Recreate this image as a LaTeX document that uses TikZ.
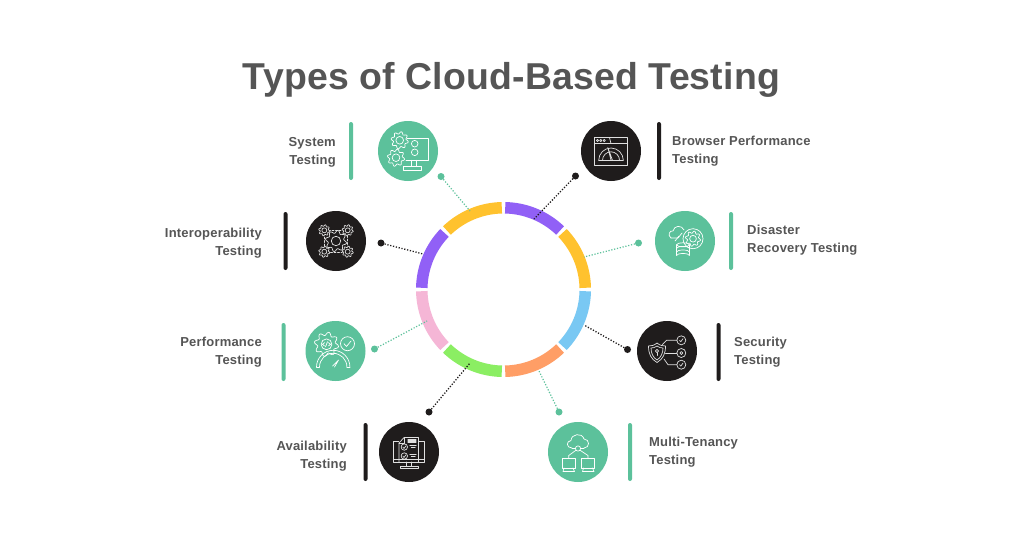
\documentclass[tikz,border=0pt]{standalone}
\usepackage{fontspec}
\setmainfont{Liberation Sans}[LetterSpace=1.5]
\newfontfamily\titlefont{Liberation Sans Bold}[LetterSpace=0.5]
\definecolor{tgreen}{HTML}{5CC19B}
\definecolor{tblack}{HTML}{1F1C1C}
\definecolor{ttext}{HTML}{555555}
\definecolor{rpurple}{HTML}{9160F6}
\definecolor{ryellow}{HTML}{FFC22E}
\definecolor{rblue}{HTML}{79C8F3}
\definecolor{rorange}{HTML}{FF9E66}
\definecolor{rgreen}{HTML}{8BEE63}
\definecolor{rpink}{HTML}{F5B6D6}
\tikzset{
  disc/.style={circle,minimum size=60pt,inner sep=0pt,draw=none},
  gdisc/.style={disc,fill=tgreen},
  kdisc/.style={disc,fill=tblack},
  bar/.style={rectangle,rounded corners=2pt,minimum width=4pt,minimum height=58pt,inner sep=0pt},
  gbar/.style={bar,fill=tgreen},
  kbar/.style={bar,fill=tblack},
  dotg/.style={circle,fill=tgreen,minimum size=7pt,inner sep=0pt},
  dotk/.style={circle,fill=tblack,minimum size=7pt,inner sep=0pt},
  lblr/.style={anchor=east,align=right,font=\fontsize{13}{18}\selectfont\bfseries,text=ttext,inner sep=0pt},
  lbll/.style={anchor=west,align=left,font=\fontsize{13}{18}\selectfont\bfseries,text=ttext,inner sep=0pt},
  cong/.style={draw=tgreen,line width=1.2pt,dash pattern=on 1.2pt off 1.7pt},
  conk/.style={draw=tblack,line width=1.3pt,dash pattern=on 1.2pt off 1.7pt},
  seg/.style={line width=11.5pt},
  ico/.style={draw=white,line width=0.7pt,fill=none,line join=round,line cap=round},
  icok/.style={draw=white!88!black,line width=0.7pt,fill=none,line join=round,line cap=round},
}
\newcommand{\ringseg}[3]{\draw[seg,draw=#3] ([shift={(#1+1.2:81.75pt)}]503.5,289.5) arc[start angle=#1+1.2,end angle=#2-1.2,radius=81.75pt];}
\newcommand{\gearic}[4]{% x y r style
  \draw[#4] plot[domain=0:357,samples=70] ({#1+(#3)*(0.88+0.14*sin(8*\x))*cos(\x)},{#2+(#3)*(0.88+0.14*sin(8*\x))*sin(\x)}) -- cycle;
  \draw[#4] (#1,#2) circle[radius=0.45*#3];}
\begin{document}
\begin{tikzpicture}[x=1pt,y=1pt,yscale=-1]
\useasboundingbox (0,0) rectangle (1024,536);
\fill[white] (0,0) rectangle (1024,536);
\node[name=title,text=ttext,inner sep=0pt,anchor=base,font=\fontsize{37.4}{40}\selectfont\titlefont] at (511.5,89) {Types of Cloud-Based Testing};

% ring
\ringseg{-90}{-45}{rpurple}
\ringseg{-45}{0}{ryellow}
\ringseg{0}{45}{rblue}
\ringseg{45}{90}{rorange}
\ringseg{90}{135}{rgreen}
\ringseg{135}{180}{rpink}
\ringseg{180}{225}{rpurple}
\ringseg{225}{270}{ryellow}

% discs
\node[gdisc] (sys) at (408,151) {};
\node[kdisc] (int) at (336,241) {};
\node[gdisc] (per) at (335.5,351) {};
\node[kdisc] (ava) at (409,452) {};
\node[kdisc] (bro) at (611,151) {};
\node[gdisc] (dis) at (685,241) {};
\node[kdisc] (sec) at (667,351) {};
\node[gdisc] (mul) at (578,452) {};

% bars
\node[gbar] (sysb) at (351,151) {};
\node[kbar] (intb) at (285.5,241) {};
\node[gbar] (perb) at (283.5,352) {};
\node[kbar] (avab) at (365.5,452) {};
\node[kbar] (brob) at (659,151) {};
\node[gbar] (disb) at (731,241) {};
\node[kbar] (secb) at (718.5,352) {};
\node[gbar] (mulb) at (630,452) {};

% labels
\node[lblr] (sysl) at (336,152) {System\\Testing};
\node[lblr] (intl) at (262,243.5) {Interoperability\\Testing};
\node[lblr] (perl) at (262,352) {Performance\\Testing};
\node[lblr] (aval) at (347,456) {Availability\\Testing};
\node[lbll] (brol) at (672,151) {Browser Performance\\Testing};
\node[lbll] (disl) at (747,240) {Disaster\\Recovery Testing};
\node[lbll] (secl) at (734,352) {Security\\Testing};
\node[lbll] (mull) at (649,452) {Multi-Tenancy\\Testing};

% connector dots and ring ends
\node[dotg] (sysd) at (441,176.5) {};
\node[dotk] (intd) at (381,243) {};
\node[dotg] (perd) at (374.5,349) {};
\node[dotk] (avad) at (429,412) {};
\node[dotk] (brod) at (575.5,176) {};
\node[dotg] (disd) at (638.5,243) {};
\node[dotk] (secd) at (627.5,349.5) {};
\node[dotg] (muld) at (559,412) {};
\coordinate (sysr) at (470,211);
\coordinate (intr) at (423,254);
\coordinate (perr) at (427,321);
\coordinate (avar) at (470,363);
\coordinate (bror) at (534,219);
\coordinate (disr) at (584,257);
\coordinate (secr) at (584,325);
\coordinate (mulr) at (539,371);
\draw[cong] (sysd) -- (sysr);
\draw[conk] (intd) -- (intr);
\draw[cong] (perd) -- (perr);
\draw[conk] (avad) -- (avar);
\draw[conk] (brod) -- (bror);
\draw[cong] (disd) -- (disr);
\draw[conk] (secd) -- (secr);
\draw[cong] (muld) -- (mulr);

% icon: system testing
\begin{scope}[shift={(408,151)}]
\gearic{-8.3}{-10.7}{8.5}{ico}
\gearic{-12}{6.7}{8.5}{ico}
\draw[ico] (-1,-12.3) -- (20,-12.3) -- (20,9.3) -- (-2,9.3);
\draw[ico] (6.7,-7.3) circle[radius=3.3];
\draw[ico] (6.7,1.3) circle[radius=3.3];
\draw[ico] (3,9.3) -- (3,15.5) (8,9.3) -- (8,15.5);
\draw[ico] (-5,15.5) rectangle (13,19);
\end{scope}

% icon: interoperability
\begin{scope}[shift={(336,241)}]
\draw[icok,dash pattern=on 2pt off 1.5pt] (-11.5,-11) rectangle (11.5,11);
\foreach \a/\b in {-11.7/-10.7,11.7/-10.7,-11.7/10.7,11.7/10.7}{
  \fill[tblack] (\a,\b) circle[radius=5.5];
  \gearic{\a}{\b}{5.5}{icok}
}
\gearic{0}{0}{10.5}{icok}
\end{scope}

% icon: browser performance
\begin{scope}[shift={(611,151)}]
\draw[icok] (-16.7,-13.3) rectangle (16.7,14.3);
\draw[icok] (-16.7,-7.3) -- (16.7,-7.3);
\draw[icok] (-1.5,-13.3) -- (0,-7.3);
\foreach \a in {-13.5,-10.2,-6.8}{\draw[icok] (\a,-10.5) circle[radius=1.1];}
\draw[icok] (-12.3,9.3) arc[start angle=180,end angle=360,radius=12.3];
\draw[icok] (-12.3,9.3) -- (12.3,9.3);
\draw[icok] (-8.5,9.3) arc[start angle=180,end angle=360,radius=8.5];
\draw[icok] (0,9.3) -- (-3.2,-3.5) -- (1.5,9.3);
\end{scope}

% icon: disaster recovery
\begin{scope}[shift={(685,241)}]
\draw[ico] (-14,-3) .. controls (-18,-6) and (-15,-11) .. (-12,-10) .. controls (-11,-16) and (-3,-16) .. (-1,-11);
\draw[ico] (-14,-3) -- (-7,-3) -- (-3,-8);
\draw[ico] (-10,0) -- (-6,-5);
\gearic{8}{-2.3}{7.5}{ico}
\draw[ico] (8,-2.3) circle[radius=10];
\draw[ico] (-2,3.8) ellipse[x radius=6.5,y radius=2];
\draw[ico] (-8.5,3.8) -- (-8.5,14.5) arc[start angle=180,end angle=360,x radius=6.5,y radius=2] -- (4.5,3.8);
\draw[ico] (-8.5,7.4) arc[start angle=180,end angle=360,x radius=6.5,y radius=2];
\draw[ico] (-8.5,11) arc[start angle=180,end angle=360,x radius=6.5,y radius=2];
\end{scope}

% icon: security
\begin{scope}[shift={(667,351)}]
\draw[icok] (-10,-8) .. controls (-13,-5.5) and (-15.5,-5) .. (-18.5,-5) .. controls (-18.5,3) and (-16,8) .. (-10,11.5) .. controls (-4,8) and (-1.5,3) .. (-1.5,-5) .. controls (-4.5,-5) and (-7,-5.5) .. (-10,-8) -- cycle;
\draw[icok] (-10,-5) .. controls (-12,-3.5) and (-14,-3) .. (-16,-3) .. controls (-16,2) and (-14,6.5) .. (-10,9) .. controls (-6,6.5) and (-4,2) .. (-4,-3) .. controls (-6,-3) and (-8,-3.5) .. (-10,-5) -- cycle;
\draw[icok] (-10,0) circle[radius=1.6];
\draw[icok] (-10,1.6) -- (-10,4.5);
\draw[icok] (-5,-6) -- (-0.5,-10.7) -- (9.8,-10.7);
\draw[icok] (-1.5,2) -- (9.8,2);
\draw[icok] (-3,8) -- (1,13.7) -- (9.8,13.7);
\foreach \b in {-10.7,2,13.7}{\draw[icok] (14.3,\b) circle[radius=4.5];}
\draw[icok] (12.5,-10.7) -- (13.8,-9.3) -- (16,-12.3);
\draw[icok] (14.3,2) circle[radius=1.5];
\draw[icok] (12.5,13.7) -- (13.8,15.1) -- (16,12.1);
\end{scope}

% icon: multi-tenancy
\begin{scope}[shift={(578,452)}]
\draw[ico] (-6,-4) .. controls (-12,-4) and (-12,-11) .. (-7,-11.5) .. controls (-7,-18) and (4,-20) .. (6,-13) .. controls (12,-13) and (12,-4) .. (6,-4);
\draw[ico] (0,-3.5) circle[radius=2.6];
\draw[ico] (-2.6,-3.5) -- (-6,-3.5);
\draw[ico] (2.6,-3.5) -- (6,-3.5);
\draw[ico] (-2,-1.8) -- (-9.3,3.5) -- (-9.3,6);
\draw[ico] (2,-1.8) -- (10,3.5) -- (10,6);
\draw[ico] (-16,6) rectangle (-3,16);
\draw[ico] (3.5,6) rectangle (16.5,16);
\draw[ico] (-14,16) -- (-15,19.5) -- (-3.5,19.5) -- (-5,16);
\draw[ico] (5.5,16) -- (4.5,19.5) -- (16,19.5) -- (14.5,16);
\end{scope}

% icon: performance
\begin{scope}[shift={(335.5,351)}]
\gearic{-9}{-6.7}{12}{ico}
\draw[ico] (-11,-8.3) -- (-13,-6.7) -- (-11,-5.1);
\draw[ico] (-7,-8.3) -- (-5,-6.7) -- (-7,-5.1);
\draw[ico] (-8,-9.3) -- (-10,-4.1);
\draw[ico] (12,-7.3) circle[radius=7];
\draw[ico] (8.5,-7.3) -- (11,-4.5) -- (15.5,-10);
\draw[ico] (-19,16) arc[start angle=180,end angle=360,radius=16.7];
\draw[ico] (-16,16) arc[start angle=180,end angle=360,radius=13.7];
\draw[ico] (-19,16) -- (-16,16) (14.4,16) -- (11.4,16);
\draw[ico] (-3,15) -- (3,9) (-1,16) -- (3,9);
\end{scope}

% icon: availability
\begin{scope}[shift={(409,452)}]
\draw[icok] (-15.7,-11) rectangle (15.3,10);
\fill[tblack] (-10,-14.5) rectangle (9.5,10);
\draw[icok] (-10,10) -- (-10,-9) -- (-5,-14.5) -- (9.5,-14.5) -- (9.5,10);
\draw[icok] (-5,-14.5) -- (-5,-9) -- (-10,-9);
\draw[icok,line width=1.3pt] (-1,-12) -- (7,-12) (-1,-10) -- (7,-10);
\foreach \b in {-5,4}{
  \draw[icok] (-4.7,\b) circle[radius=3.2];
  \draw[icok] (-6.2,\b) -- (-5,\b+1.4) -- (-3,\b-1.2);
  \draw[icok,line width=1.1pt] (1,\b-1.5) -- (7,\b-1.5) (2.5,\b+0.7) -- (6,\b+0.7);
}
\draw[icok] (-15.7,7.5) -- (15.3,7.5);
\draw[icok] (-2.5,10) -- (-2.5,14) (2.5,10) -- (2.5,14);
\draw[icok] (-9,14) rectangle (9,16.5);
\end{scope}
\end{tikzpicture}
\end{document}
